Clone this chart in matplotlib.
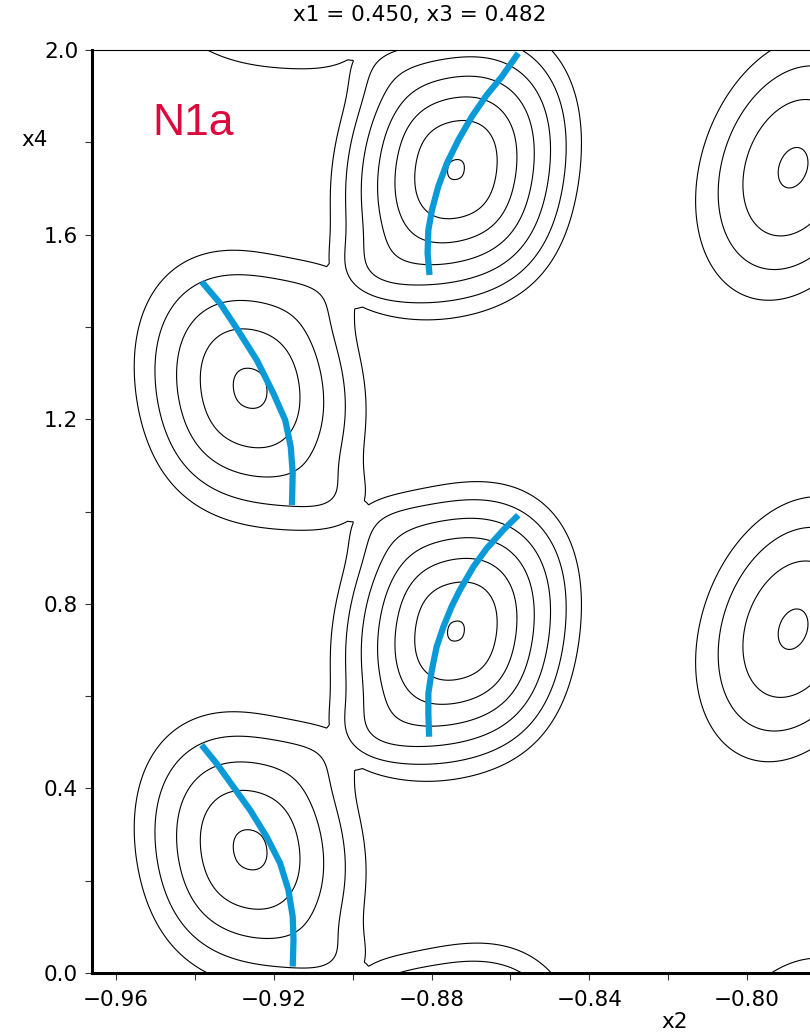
import numpy as np
import matplotlib
matplotlib.use('Agg')
import matplotlib.pyplot as plt
from matplotlib.ticker import MultipleLocator, FuncFormatter

# Density peaks of the section (x2, x4); each one repeats every 1.0 along x4
peak_x2 = [-0.9260, -0.8738, -0.7883]
peak_x4 = [0.267, 0.741, 0.745]
peak_height = [5.16, 7.05, 4.12]
peak_step_x2 = [0.00482, 0.00355, 0.00507]   # spacing of successive contours along x2
peak_step_x4 = [0.0490, 0.0361, 0.0589]      # spacing of successive contours along x4
peak_tilt = [-0.12, 0.12, 0.25]
peak_core = [2.37, 3.57, 2.25]               # flatness of the top of each peak
peak_square = [0.25, 0.35, 0.0]              # how boxy the contours are

# Low density ridges joining the peaks (also repeated every 1.0 along x4)
bridge_x2 = [-0.9000, -0.9000]
bridge_x4 = [0.004, 0.504]
bridge_height = [1.1, 1.1]
bridge_width_x2 = [0.010, 0.010]
bridge_width_x4 = [0.06, 0.06]

contour_levels = [1, 2, 3, 4, 5, 6, 7]

# Modulation curves of N1a
arc1_x2 = [-0.9383, -0.9345, -0.9303, -0.9260, -0.9218, -0.9184, -0.9163, -0.9152, -0.9150, -0.9152]
arc1_x4 = [0.494, 0.454, 0.404, 0.353, 0.295, 0.238, 0.180, 0.122, 0.072, 0.014]
arc2_x2 = [-0.9383, -0.9336, -0.9294, -0.9243, -0.9201, -0.9171, -0.9157, -0.9152, -0.9154]
arc2_x4 = [1.498, 1.451, 1.397, 1.328, 1.256, 1.198, 1.140, 1.083, 1.014]
arc3_x2 = [-0.8806, -0.8808, -0.8808, -0.8799, -0.8787, -0.8770, -0.8749, -0.8728, -0.8694, -0.8660, -0.8618, -0.8580]
arc3_x4 = [0.512, 0.563, 0.606, 0.657, 0.707, 0.750, 0.794, 0.830, 0.880, 0.920, 0.960, 0.992]
arc4_x2 = [-0.8805, -0.8810, -0.8808, -0.8799, -0.8783, -0.8761, -0.8732, -0.8698, -0.8660, -0.8622, -0.8580]
arc4_x4 = [1.5125, 1.5595, 1.610, 1.653, 1.704, 1.7545, 1.805, 1.8555, 1.9025, 1.942, 1.993]

title_text = 'x1 = 0.450, x3 = 0.482'
atom_label = 'N1a'


def density(X, Y):
    F = np.zeros_like(X)
    for shift in (-1, 0, 1, 2):
        for i in range(len(peak_x2)):
            u = (X - peak_x2[i]) / peak_step_x2[i]
            v = (Y - peak_x4[i] - shift) / peak_step_x4[i]
            rho = peak_tilt[i]
            r2 = (u**2 - 2 * rho * u * v + v**2) / (1 - rho**2)
            # squeeze the distance along the diagonals to get rounded-box contours
            q = u**2 + v**2 + 1e-12
            r2 = r2 * (1 - peak_square[i] * (u**2 * v**2) / q**2)
            a = peak_core[i]
            F += np.clip(peak_height[i] - (np.sqrt(a**2 + r2) - a), 0, None)
        for j in range(len(bridge_x2)):
            u = (X - bridge_x2[j]) / bridge_width_x2[j]
            v = (Y - bridge_x4[j] - shift) / bridge_width_x4[j]
            F += bridge_height[j] * np.exp(-0.5 * (u**2 + v**2))
    return F


def main():
    fig = plt.figure(figsize=(8.1, 10.36), dpi=100)
    ax = fig.add_axes([0.1136, 0.0608, 0.9546, 0.8909])

    # Contour map
    x2 = np.linspace(-0.975, -0.76, 800)
    x4 = np.linspace(-0.03, 2.03, 1600)
    X, Y = np.meshgrid(x2, x4)
    ax.contour(X, Y, density(X, Y), levels=contour_levels, colors='black', linewidths=0.8)

    # Modulation curves
    for xs, ys in [(arc1_x2, arc1_x4), (arc2_x2, arc2_x4), (arc3_x2, arc3_x4), (arc4_x2, arc4_x4)]:
        ax.plot(xs, ys, color='#0A9AD8', linewidth=4.5, solid_capstyle='butt', zorder=3)

    ax.set_xlim(-0.9661, -0.77)
    ax.set_ylim(0.0, 2.0)

    # Ticks
    ax.xaxis.set_major_locator(MultipleLocator(0.04))
    ax.xaxis.set_minor_locator(MultipleLocator(0.02))
    ax.yaxis.set_major_locator(MultipleLocator(0.4))
    ax.yaxis.set_minor_locator(MultipleLocator(0.2))
    ax.xaxis.set_major_formatter(FuncFormatter(lambda v, p: f'{v:.2f}'.replace('-', '\u2212')))
    ax.yaxis.set_major_formatter(FuncFormatter(lambda v, p: f'{abs(v):.1f}'))
    ax.tick_params(which='both', direction='out', length=5, width=0.8, color='#333333',
                   labelsize=15.5, top=False, right=False)
    ax.tick_params(axis='x', pad=7)
    ax.tick_params(axis='y', pad=5)

    for side in ['left', 'bottom']:
        ax.spines[side].set_linewidth(2.2)
    ax.spines['top'].set_linewidth(0.8)
    ax.spines['right'].set_visible(False)

    # Labels
    fig.text(0.5185, 0.9855, title_text, ha='center', va='center', fontsize=15.5)
    fig.text(0.043, 0.865, 'x4', ha='center', va='center', fontsize=15.5)
    fig.text(0.833, 0.0135, 'x2', ha='center', va='center', fontsize=15.5)
    fig.text(0.1877, 0.8697, atom_label, ha='left', va='baseline', fontsize=32,
             color='#DC0A3C', family='Liberation Sans')

    fig.savefig('out.png', dpi=100)


if __name__ == "__main__":
    main()
